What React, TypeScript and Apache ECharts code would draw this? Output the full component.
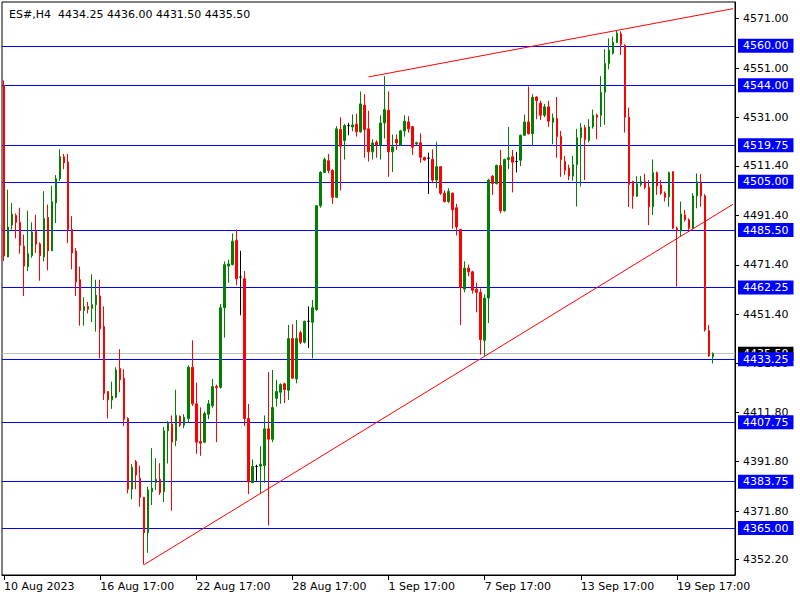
import React, { useEffect, useRef } from "react";
import * as echarts from "echarts";

const symbolName = "ES#,H4";
const tickLabels = ["10 Aug 2023", "16 Aug 17:00", "22 Aug 17:00", "28 Aug 17:00", "1 Sep 17:00", "7 Sep 17:00", "13 Sep 17:00", "19 Sep 17:00"];
const barsPerTick = 24;
const emptySlots = 5;

const open = [
  4544, 4474.6, 4487.5, 4491.4, 4488.6, 4479.0, 4470.7, 4475.1, 4485.0, 4479.9,
  4474.6, 4490.6, 4477.1, 4496.5, 4506.2, 4515.1, 4513.0, 4485.7, 4477.0, 4465.4,
  4453.0, 4454.6, 4453.8, 4455.3, 4458.8, 4446.5, 4420.2, 4416.8, 4417.9, 4429.5,
  4425.6, 4409.3, 4380.7, 4391.8, 4385.1, 4377.4, 4363.1, 4379.7, 4383.4, 4384.7,
  4379.7, 4404.3, 4407.0, 4400.4, 4410.2, 4406.6, 4409.3, 4430.0, 4415.2, 4400.0,
  4399.7, 4411.0, 4414.4, 4422.2, 4421.9, 4454.1, 4470.9, 4471.5, 4481.3, 4466.5,
  4465.8, 4409.3, 4383.3, 4389.9, 4390.0, 4390.3, 4405.1, 4400.9, 4417.5, 4419.9,
  4423.3, 4420.7, 4441.6, 4425.3, 4444.0, 4440.1, 4448.6, 4448.2, 4453.3, 4495.3,
  4508.8, 4513.5, 4509.6, 4498.7, 4526.1, 4521.7, 4527.7, 4527.2, 4528.3, 4525.2,
  4536.0, 4526.4, 4517.1, 4521.0, 4519.9, 4528.8, 4533.9, 4517.1, 4522.1, 4519.9,
  4525.6, 4529.2, 4527.3, 4520.3, 4520.8, 4514.8, 4514.5, 4514.1, 4505.7, 4511.1,
  4500.4, 4497.0, 4500.4, 4494.5, 4485.7, 4461.6, 4470.1, 4468.6, 4461.6, 4460.3,
  4440.9, 4458.0, 4507.3, 4504.3, 4511.6, 4493.3, 4514.0, 4515.1, 4513.2, 4513.7,
  4523.8, 4529.2, 4524.4, 4539.3, 4536.8, 4531.9, 4535.3, 4529.0, 4530.6, 4523.3,
  4513.2, 4510.5, 4507.3, 4511.9, 4522.8, 4526.9, 4521.7, 4527.2, 4531.9, 4531.9,
  4541.2, 4552.8, 4557.0, 4561.4, 4564.8, 4560.2, 4531.1, 4505.1, 4499.2, 4503.9,
  4505.0, 4502.8, 4494.9, 4508.7, 4503.7, 4500.4, 4499.0, 4509.1, 4486.2, 4485.2,
  4491.6, 4489.6, 4486.2, 4499.3, 4504.6, 4499.3, 4444.8, 4434.25,
];
const high = [
  4546, 4501.8, 4496.4, 4492.2, 4494.5, 4483.6, 4493.3, 4488.6, 4491.7, 4480.5,
  4501.2, 4495.8, 4503.4, 4507.7, 4518.2, 4516.3, 4516.3, 4491.1, 4478.2, 4470.7,
  4458.3, 4456.4, 4467.6, 4465.4, 4465.4, 4454.6, 4420.3, 4424.2, 4430.0, 4437.3,
  4429.2, 4409.8, 4390.9, 4392.5, 4390.2, 4377.6, 4381.7, 4397.3, 4393.2, 4391.2,
  4405.9, 4408.2, 4410.5, 4420.9, 4410.5, 4411.0, 4430.8, 4440.9, 4423.8, 4413.8,
  4412.1, 4416.8, 4425.3, 4423.0, 4455.6, 4472.8, 4473.5, 4484.1, 4485.7, 4477.1,
  4468.9, 4415.2, 4392.7, 4390.6, 4398.1, 4410.5, 4428.0, 4428.9, 4425.0, 4423.5,
  4423.8, 4447.1, 4447.4, 4449.1, 4444.8, 4448.9, 4454.6, 4457.2, 4495.6, 4509.3,
  4514.8, 4516.3, 4510.1, 4527.5, 4531.1, 4528.4, 4528.8, 4532.2, 4532.6, 4541.5,
  4540.4, 4533.7, 4522.2, 4521.8, 4531.9, 4547.7, 4541.5, 4524.1, 4524.1, 4526.0,
  4531.9, 4531.5, 4527.6, 4521.2, 4524.6, 4515.2, 4516.8, 4518.1, 4521.2, 4511.4,
  4501.5, 4502.4, 4500.7, 4496.1, 4486.0, 4472.8, 4471.5, 4469.0, 4464.2, 4461.9,
  4459.5, 4506.2, 4507.7, 4512.0, 4517.9, 4514.4, 4527.2, 4517.9, 4517.1, 4524.1,
  4532.2, 4543.5, 4540.4, 4539.6, 4537.8, 4536.5, 4537.8, 4532.6, 4539.3, 4525.6,
  4515.5, 4511.9, 4515.5, 4526.4, 4528.7, 4528.0, 4530.3, 4534.2, 4532.6, 4547.7,
  4558.6, 4563.0, 4563.7, 4566.1, 4565.8, 4560.6, 4535.0, 4505.4, 4507.3, 4507.3,
  4508.2, 4505.7, 4514.0, 4509.2, 4505.7, 4501.1, 4509.1, 4509.3, 4486.9, 4497.0,
  4493.6, 4490.2, 4500.4, 4508.4, 4508.2, 4500.0, 4447.1, 4436.0,
];
const low = [
  4473, 4474.6, 4485.7, 4482.1, 4475.9, 4458.8, 4468.9, 4474.3, 4476.2, 4465.0,
  4472.8, 4469.2, 4477.0, 4488.3, 4505.4, 4510.1, 4480.2, 4469.6, 4458.8, 4446.8,
  4446.8, 4451.8, 4448.3, 4444.4, 4433.6, 4416.8, 4409.3, 4413.2, 4417.5, 4419.9,
  4406.2, 4379.0, 4376.6, 4380.7, 4373.6, 4350.2, 4355.0, 4374.3, 4380.4, 4378.4,
  4375.5, 4391.1, 4372.0, 4398.1, 4405.8, 4405.4, 4407.4, 4414.4, 4395.0, 4394.2,
  4399.3, 4409.0, 4413.6, 4399.7, 4421.4, 4442.0, 4464.2, 4471.2, 4463.1, 4451.0,
  4406.2, 4378.7, 4383.3, 4384.1, 4379.0, 4383.3, 4366.0, 4399.7, 4414.1, 4415.2,
  4415.5, 4416.8, 4425.3, 4423.5, 4439.3, 4439.6, 4437.8, 4433.6, 4452.8, 4494.5,
  4508.5, 4508.5, 4496.1, 4498.4, 4501.5, 4514.0, 4523.8, 4525.4, 4523.3, 4524.9,
  4514.7, 4513.2, 4514.0, 4514.7, 4514.0, 4522.5, 4507.0, 4509.0, 4517.9, 4519.4,
  4523.3, 4524.9, 4515.8, 4519.8, 4512.7, 4513.5, 4500.1, 4504.4, 4502.4, 4499.7,
  4496.6, 4496.4, 4486.0, 4483.3, 4447.1, 4460.3, 4466.8, 4459.8, 4452.2, 4435.1,
  4434.6, 4447.9, 4499.7, 4503.9, 4492.2, 4492.9, 4510.1, 4500.7, 4508.8, 4511.3,
  4523.5, 4524.1, 4519.4, 4530.3, 4530.0, 4531.1, 4527.2, 4520.2, 4514.7, 4507.0,
  4507.7, 4505.7, 4505.4, 4495.0, 4503.1, 4505.7, 4521.0, 4526.5, 4522.2, 4527.2,
  4528.0, 4550.5, 4556.4, 4561.0, 4556.3, 4524.9, 4494.8, 4494.1, 4498.9, 4503.1,
  4502.0, 4487.5, 4491.6, 4499.7, 4499.7, 4497.0, 4494.9, 4485.8, 4462.6, 4483.1,
  4488.9, 4485.2, 4485.8, 4494.3, 4494.9, 4444.4, 4434.2, 4431.5,
];
const close = [
  4475, 4486.7, 4491.9, 4488.6, 4479.3, 4470.9, 4475.9, 4484.7, 4479.8, 4475.1,
  4490.2, 4477.1, 4496.9, 4506.2, 4515.1, 4512.7, 4485.7, 4476.2, 4464.5, 4453.0,
  4454.6, 4453.5, 4455.3, 4459.1, 4445.5, 4419.4, 4416.8, 4418.3, 4428.9, 4425.0,
  4409.0, 4380.7, 4389.6, 4386.4, 4377.4, 4363.1, 4380.4, 4381.1, 4384.7, 4379.3,
  4404.3, 4407.7, 4399.7, 4410.5, 4406.6, 4409.8, 4430.0, 4415.2, 4399.7, 4399.3,
  4411.3, 4415.2, 4422.2, 4421.7, 4454.1, 4471.5, 4471.8, 4481.0, 4465.8, 4466.5,
  4409.3, 4383.6, 4389.9, 4389.9, 4390.8, 4405.1, 4400.9, 4413.7, 4420.2, 4423.0,
  4421.0, 4441.6, 4425.6, 4441.6, 4440.1, 4448.6, 4448.6, 4454.1, 4495.3, 4508.8,
  4514.0, 4509.6, 4498.7, 4526.4, 4519.4, 4527.7, 4527.7, 4528.0, 4525.2, 4536.5,
  4526.1, 4517.1, 4520.7, 4519.9, 4528.8, 4534.2, 4517.1, 4519.1, 4520.7, 4525.6,
  4529.5, 4526.4, 4519.0, 4520.8, 4514.9, 4513.8, 4514.5, 4505.7, 4511.1, 4500.4,
  4497.0, 4501.1, 4493.7, 4486.7, 4462.2, 4470.1, 4468.6, 4461.1, 4460.3, 4441.2,
  4458.0, 4505.7, 4504.3, 4511.6, 4493.3, 4514.0, 4514.7, 4512.9, 4513.2, 4523.8,
  4529.2, 4524.4, 4539.2, 4537.8, 4531.9, 4535.3, 4529.5, 4530.8, 4523.3, 4514.0,
  4509.6, 4507.3, 4511.9, 4522.8, 4526.9, 4522.1, 4527.2, 4531.9, 4531.1, 4541.2,
  4552.8, 4558.3, 4561.4, 4565.1, 4560.6, 4531.1, 4503.9, 4499.2, 4504.2, 4505.1,
  4502.8, 4494.9, 4508.7, 4503.3, 4500.4, 4498.7, 4508.7, 4486.2, 4485.2, 4492.0,
  4489.6, 4486.2, 4499.3, 4505.0, 4499.3, 4445.1, 4434.6, 4435.50,
];

const levels = [4560.0, 4544.0, 4519.75, 4505.0, 4485.5, 4462.25, 4433.25, 4407.75, 4383.75, 4365.0];
const bidLevels = [4435.5];
const yTicks = [4571.0, 4551.0, 4531.0, 4511.4, 4491.4, 4471.4, 4451.4, 4431.6, 4411.8, 4391.8, 4371.8, 4352.2];
const upperTrend = [[91, 4547.4], [182, 4575.0]];
const lowerTrend = [[35, 4350.2], [182, 4495.9]];
const yMin = 4346.0;
const yMax = 4577.7;

const FONT = "DejaVu Sans";
const GRID_LEFT = 2;
const GRID_RIGHT = 65;

export default function App() {
  const ref = useRef<HTMLDivElement>(null);
  useEffect(() => {
    if (!ref.current) return;
    const chart = echarts.init(ref.current, undefined, { renderer: "svg" });
    const n = open.length;
    const plotWidth = 800 - GRID_LEFT - GRID_RIGHT;
    const categories = Array.from({ length: n + emptySlots }, (_, i) =>
      i % barsPerTick === 0 && tickLabels[i / barsPerTick] ? tickLabels[i / barsPerTick] : ""
    );
    const candles = open.map((o, i) => {
      const v = [o, close[i], low[i], high[i]];
      if (o === close[i]) {
        return { value: v, itemStyle: { color: "#000", color0: "#000", borderColor: "#000", borderColor0: "#000" } };
      }
      return v;
    });
    const last = n - 1;
    const header = `${symbolName}  ${open[last].toFixed(2)} ${high[last].toFixed(2)} ${low[last].toFixed(2)} ${close[last].toFixed(2)}`;
    const showTick = (idx: number) => idx % barsPerTick === 0 && idx < n;
    const fmt = (v: number) => v.toFixed(2);

    const levelAxis = (values: number[], lineColor: string, bg: string) => ({
      type: "value",
      position: "right",
      min: yMin,
      max: yMax,
      splitLine: { show: false },
      axisLine: { show: false },
      axisTick: { show: true, inside: true, length: plotWidth, customValues: values, lineStyle: { color: lineColor, width: 1 } },
      axisLabel: {
        customValues: values,
        formatter: fmt,
        margin: 3,
        backgroundColor: bg,
        color: "#fff",
        padding: [2, 5, 1, 5],
        fontFamily: FONT,
        fontSize: 11,
      },
    });

    chart.setOption({
      animation: false,
      backgroundColor: "#fff",
      textStyle: { fontFamily: FONT },
      title: {
        text: header, left: 4, top: 4,
        textStyle: { fontFamily: FONT, fontSize: 11, fontWeight: "normal", color: "#000" },
      },
      grid: { left: GRID_LEFT, right: GRID_RIGHT, top: 2, bottom: 25, show: true, borderColor: "#000", borderWidth: 1, backgroundColor: "transparent" },
      xAxis: {
        type: "category",
        data: categories,
        boundaryGap: true,
        axisLine: { show: true, lineStyle: { color: "#000" } },
        axisTick: { show: true, alignWithLabel: true, interval: (idx: number) => showTick(idx), length: 5, lineStyle: { color: "#000" } },
        axisLabel: {
          interval: (idx: number) => showTick(idx),
          align: "left", margin: 6, color: "#000", fontFamily: FONT, fontSize: 11,
        },
        splitLine: { show: false },
      },
      yAxis: [
        {
          type: "value",
          position: "right",
          min: yMin,
          max: yMax,
          splitLine: { show: false },
          axisLine: { show: true, lineStyle: { color: "#000" } },
          axisTick: { show: true, length: 4, customValues: yTicks, lineStyle: { color: "#000" } },
          axisLabel: {
            customValues: yTicks,
            formatter: fmt,
            margin: 8, color: "#000", fontFamily: FONT, fontSize: 11,
          },
        },
        levelAxis(bidLevels, "#c0c0c0", "#000"),
        levelAxis(levels, "#0000ff", "#0000ff"),
      ],
      series: [
        {
          type: "candlestick",
          data: candles,
          barWidth: 2,
          itemStyle: {
            color: "#008000", color0: "#ff0000",
            borderColor: "#008000", borderColor0: "#ff0000", borderWidth: 1,
          },
        },
        {
          type: "line", data: upperTrend, symbol: "none", silent: true,
          lineStyle: { color: "#ff0000", width: 1 },
        },
        {
          type: "line", data: lowerTrend, symbol: "none", silent: true,
          lineStyle: { color: "#ff0000", width: 1 },
        },
      ],
    });
    return () => chart.dispose();
  }, []);
  return <div ref={ref} style={{ position: "fixed", left: 0, top: 0, width: 800, height: 600 }} />;
}
